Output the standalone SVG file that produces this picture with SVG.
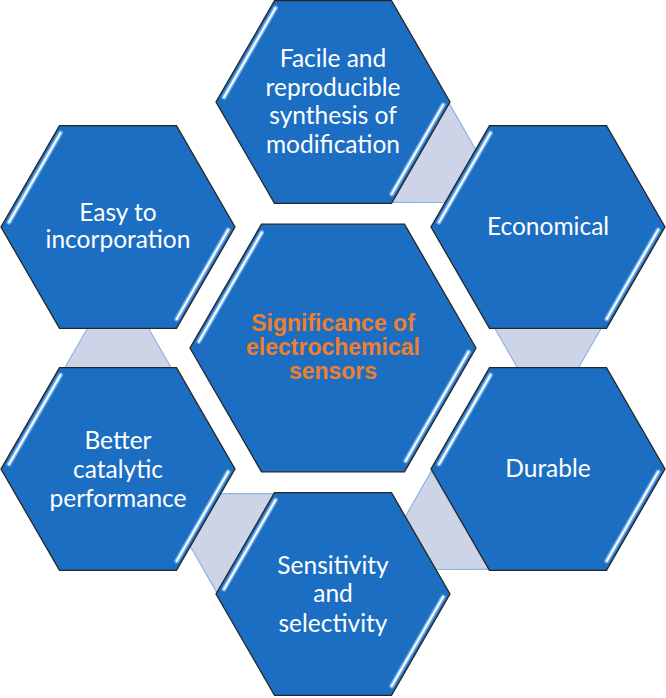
<svg xmlns="http://www.w3.org/2000/svg" xmlns:xlink="http://www.w3.org/1999/xlink" width="666" height="698" viewBox="0 0 666 698">
<style>
.hexf{fill:#1B6EC2;stroke:#262626;stroke-width:1.3;stroke-linejoin:miter}
.glow{stroke:#8CC0F2;stroke-width:5;stroke-linecap:round;opacity:0.75}
.shine{stroke:#FFFFFF;stroke-width:2;stroke-linecap:round}
.conn{fill:#CDD4E8;stroke:none}
.leg{stroke:#8DB4E2;stroke-width:1.2}
.lbl{font-family:Lato,"Open Sans","Liberation Sans",sans-serif;font-size:24.5px;fill:#FFFFFF;text-anchor:middle}
.ctr{font-family:"Liberation Sans",Arial,sans-serif;font-weight:bold;font-size:23px;fill:#EE7F2F;text-anchor:middle}
</style>
<defs>
<g id="hex">
<polygon class="hexf" points="117,0 58.5,101.32 -58.5,101.32 -117,0 -58.5,-101.32 58.5,-101.32"/>
<line class="glow" x1="-57.5" y1="-94" x2="-109" y2="-4.8"/>
<line class="shine" x1="-57.5" y1="-94" x2="-109" y2="-4.8"/>
<line class="glow" x1="110.2" y1="2.8" x2="58.7" y2="92"/>
<line class="shine" x1="110.2" y1="2.8" x2="58.7" y2="92"/>
</g>
</defs>
<rect width="666" height="698" fill="#FFFFFF"/>
<g id="connectors">
<polygon class="conn" points="391.9,202.3 449.3,103.6 475.7,149.7 445.1,202.5"/>
<line class="leg" x1="449.3" y1="103.6" x2="475.7" y2="149.7"/>
<line class="leg" x1="391.9" y1="202.3" x2="445.1" y2="202.5"/>
<polygon class="conn" points="494.8,328.3 601.2,328.3 578.5,367.7 517.5,367.7"/>
<line class="leg" x1="494.8" y1="328.3" x2="517.5" y2="367.7"/>
<line class="leg" x1="601.2" y1="328.3" x2="578.5" y2="367.7"/>
<polygon class="conn" points="431.7,470.6 489.1,569.3 435.9,569.5 405.3,516.7"/>
<line class="leg" x1="431.7" y1="470.6" x2="405.3" y2="516.7"/>
<line class="leg" x1="489.1" y1="569.3" x2="435.9" y2="569.5"/>
<polygon class="conn" points="274.1,493.7 216.7,592.4 190.3,546.3 220.9,493.6"/>
<line class="leg" x1="274.1" y1="493.7" x2="220.9" y2="493.6"/>
<line class="leg" x1="216.7" y1="592.4" x2="190.3" y2="546.3"/>
<polygon class="conn" points="171.2,367.7 64.8,367.7 87.5,328.3 148.5,328.3"/>
<line class="leg" x1="171.2" y1="367.7" x2="148.5" y2="328.3"/>
<line class="leg" x1="64.8" y1="367.7" x2="87.5" y2="328.3"/>
</g>
<g id="node-facile">
<use xlink:href="#hex" transform="translate(333,102)"/>
<text class="lbl" x="333" y="66.8">Facile and</text>
<text class="lbl" x="333" y="95.6">reproducible</text>
<text class="lbl" x="333" y="124.4">synthesis of</text>
<text class="lbl" x="333" y="153.2">modification</text>
</g>
<g id="node-economical">
<use xlink:href="#hex" transform="translate(548,227)"/>
<text class="lbl" x="548" y="234.5">Economical</text>
</g>
<g id="node-durable">
<use xlink:href="#hex" transform="translate(548,469)"/>
<text class="lbl" x="548" y="477">Durable</text>
</g>
<g id="node-sensitivity">
<use xlink:href="#hex" transform="translate(333,594)"/>
<text class="lbl" x="333" y="573.5">Sensitivity</text>
<text class="lbl" x="333" y="602">and</text>
<text class="lbl" x="333" y="631.5">selectivity</text>
</g>
<g id="node-better">
<use xlink:href="#hex" transform="translate(118,469)"/>
<text class="lbl" x="118" y="449">Better</text>
<text class="lbl" x="118" y="478">catalytic</text>
<text class="lbl" x="118" y="506.5">performance</text>
</g>
<g id="node-easy">
<use xlink:href="#hex" transform="translate(118,227)"/>
<text class="lbl" x="118" y="220.5">Easy to</text>
<text class="lbl" x="118" y="248">incorporation</text>
</g>
<g id="node-center">
<polygon class="hexf" points="476,348 404.5,471.84 261.5,471.84 190,348 261.5,224.16 404.5,224.16"/>
<line class="glow" x1="261.8" y1="232.6" x2="198.9" y2="341.6"/>
<line class="shine" x1="261.8" y1="232.6" x2="198.9" y2="341.6"/>
<line class="glow" x1="468.5" y1="351.9" x2="405.6" y2="460.9"/>
<line class="shine" x1="468.5" y1="351.9" x2="405.6" y2="460.9"/>
<text class="ctr" x="333" y="331">Significance of</text>
<text class="ctr" x="333" y="355">electrochemical</text>
<text class="ctr" x="333" y="379">sensors</text>
</g>
</svg>
